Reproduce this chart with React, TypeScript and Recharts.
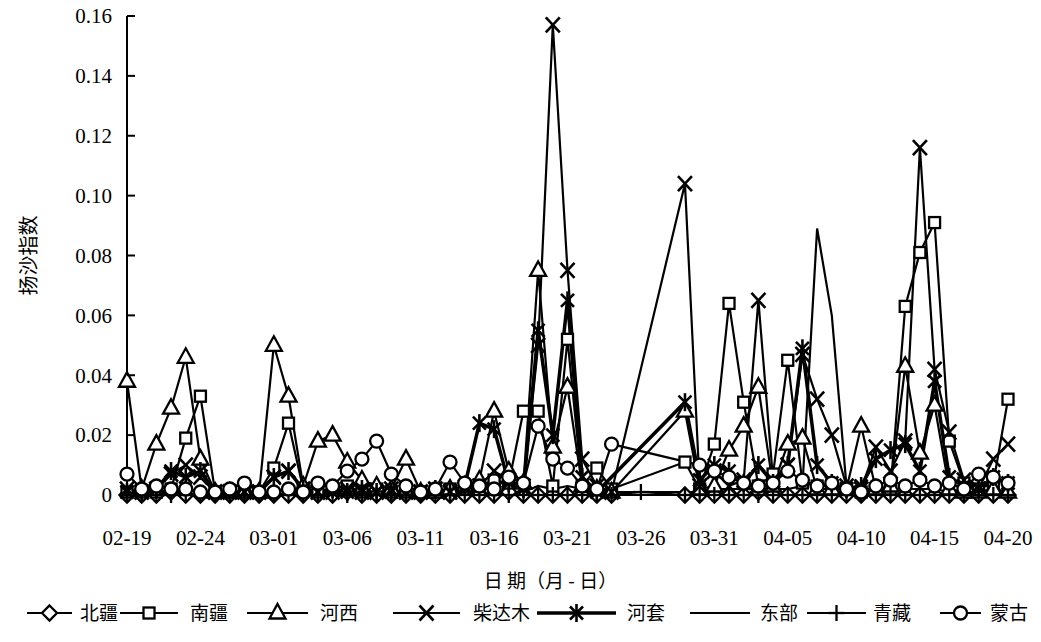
import * as React from 'react';
import { LineChart, Line, XAxis, YAxis, Legend } from 'recharts';

const dates = [
  '02-19', '02-20', '02-21', '02-22', '02-23', '02-24', '02-25', '02-26', '02-27', '02-28',
  '03-01', '03-02', '03-03', '03-04', '03-05', '03-06', '03-07', '03-08', '03-09', '03-10',
  '03-11', '03-12', '03-13', '03-14', '03-15', '03-16', '03-17', '03-18', '03-19', '03-20',
  '03-21', '03-22', '03-23', '03-24', '03-25', '03-26', '03-27', '03-28', '03-29', '03-30',
  '03-31', '04-01', '04-02', '04-03', '04-04', '04-05', '04-06', '04-07', '04-08', '04-09',
  '04-10', '04-11', '04-12', '04-13', '04-14', '04-15', '04-16', '04-17', '04-18', '04-19',
  '04-20',
];

// 北疆
const beijiang = [
  0, 0, 0, 0.001, 0, 0, 0, 0, 0, 0,
  0, 0, 0, 0, 0, 0.001, 0, 0, 0, 0,
  0, 0, 0, 0, 0, 0, 0.001, 0, 0, 0,
  0, 0, 0, 0, null, null, null, null, 0, 0,
  0, 0, 0, 0.001, 0, 0, 0, 0, 0, 0,
  0, 0, 0, 0, 0, 0, 0, 0, 0, 0,
  0,
];
// 南疆
const nanjiang = [
  0.001, 0.001, 0.001, 0.002, 0.019, 0.033, 0.001, 0.001, 0.001, 0.001,
  0.009, 0.024, 0.002, 0.001, 0.002, 0.003, 0.001, 0.002, 0.001, 0.001,
  0.001, 0.001, 0.002, 0.002, 0.003, 0.005, 0.004, 0.028, 0.028, 0.003,
  0.052, 0.003, 0.009, 0.002, null, null, null, null, 0.011, 0.002,
  0.017, 0.064, 0.031, 0.003, 0.007, 0.045, 0.004, 0.003, 0.003, 0.002,
  0.001, 0.002, 0.002, 0.063, 0.081, 0.091, 0.018, 0.004, 0.002, 0.004,
  0.032,
];
// 河西
const hexi = [
  0.038, 0.002, 0.017, 0.029, 0.046, 0.012, 0.001, 0.001, 0.001, 0.001,
  0.050, 0.033, 0.003, 0.018, 0.020, 0.011, 0.005, 0.003, 0.002, 0.012,
  0.001, 0.001, 0.002, 0.003, 0.005, 0.028, 0.008, 0.004, 0.075, 0.016,
  0.036, 0.003, 0.002, 0.001, null, null, null, null, 0.028, 0.002,
  0.003, 0.015, 0.023, 0.036, 0.003, 0.017, 0.019, 0.002, 0.002, 0.002,
  0.023, 0.002, 0.003, 0.043, 0.014, 0.030, 0.002, 0.001, 0.001, 0.002,
  0.001,
];
// 柴达木
const chaidamu = [
  0.002, 0.001, 0.002, 0.007, 0.010, 0.006, 0.001, 0.001, 0.001, 0.001,
  0.006, 0.008, 0.002, 0.001, 0.001, 0.002, 0.001, 0.001, 0.002, 0.001,
  0.001, 0.002, 0.001, 0.002, 0.003, 0.008, 0.005, 0.003, 0.050, 0.157,
  0.075, 0.012, 0.003, 0.001, null, null, null, null, 0.104, 0.003,
  0.008, 0.003, 0.005, 0.065, 0.005, 0.010, 0.047, 0.032, 0.020, 0.003,
  0.002, 0.016, 0.008, 0.018, 0.116, 0.042, 0.021, 0.005, 0.002, 0.012,
  0.017,
];
// 河套
const hetao = [
  0.001, 0.001, 0.002, 0.008, 0.006, 0.008, 0.001, 0.001, 0.001, 0.001,
  0.006, 0.008, 0.002, 0.001, 0.002, 0.001, 0.002, 0.001, 0.001, 0.001,
  0.001, 0.002, 0.001, 0.003, 0.024, 0.022, 0.004, 0.002, 0.055, 0.020,
  0.065, 0.006, 0.001, null, null, null, null, null, 0.031, 0.005,
  0.010, 0.008, 0.004, 0.010, 0.004, 0.010, 0.049, 0.010, 0.004, 0.002,
  0.003, 0.012, 0.015, 0.017, 0.008, 0.038, 0.006, 0.003, 0.002, 0.006,
  0.004,
];
// 东部
const dongbu = [
  0.001, 0.001, 0.001, 0.001, 0.002, 0.001, 0.001, 0.001, 0.001, 0.001,
  0.001, 0.002, 0.001, 0.001, 0.001, 0.001, 0.001, 0.001, 0.001, 0.001,
  0.001, 0.001, 0.001, 0.001, 0.002, 0.002, 0.001, 0.001, 0.003, 0.002,
  0.003, 0.002, 0.002, 0.001, null, null, null, null, null, 0.001,
  0.002, 0.002, 0.002, 0.002, 0.002, 0.002, 0.003, 0.089, 0.060, 0.003,
  0.001, 0.002, 0.001, 0.002, 0.002, 0.002, 0.001, 0.001, 0.001, 0.002,
  0.001,
];
// 青藏
const qingzang = [
  0, 0, 0, 0, 0, 0, 0, 0, 0, 0,
  0, 0, 0, 0, 0, 0, 0, 0, 0, 0,
  0, 0, 0, 0, 0, 0, 0, 0, 0, 0,
  0, 0, 0, 0, null, 0.001, null, null, 0, 0,
  0, 0, 0, 0, 0, 0, 0, 0, 0, 0,
  0, 0, 0, 0, 0, 0, 0, 0, 0, 0,
  0,
];
// 蒙古
const menggu = [
  0.007, 0.002, 0.003, 0.002, 0.002, 0.001, 0.001, 0.002, 0.004, 0.001,
  0.001, 0.002, 0.001, 0.004, 0.003, 0.008, 0.012, 0.018, 0.007, 0.003,
  0.001, 0.002, 0.011, 0.004, 0.003, 0.002, 0.006, 0.004, 0.023, 0.012,
  0.009, 0.003, 0.002, 0.017, null, null, null, null, null, 0.010,
  0.008, 0.006, 0.004, 0.003, 0.004, 0.008, 0.005, 0.003, 0.004, 0.002,
  0.001, 0.003, 0.005, 0.003, 0.005, 0.003, 0.004, 0.002, 0.007, 0.006,
  0.004,
];

const yTicks = [0, 0.02, 0.04, 0.06, 0.08, 0.1, 0.12, 0.14, 0.16];

const series = [
  { key: 'beijiang', name: '北疆', values: beijiang, shape: 'diamond', width: 2.2 },
  { key: 'nanjiang', name: '南疆', values: nanjiang, shape: 'square', width: 2.2 },
  { key: 'hexi', name: '河西', values: hexi, shape: 'triangle', width: 2.2 },
  { key: 'chaidamu', name: '柴达木', values: chaidamu, shape: 'cross', width: 2.2 },
  { key: 'hetao', name: '河套', values: hetao, shape: 'star', width: 3.5 },
  { key: 'dongbu', name: '东部', values: dongbu, shape: 'none', width: 2.2 },
  { key: 'qingzang', name: '青藏', values: qingzang, shape: 'plus', width: 2.2 },
  { key: 'menggu', name: '蒙古', values: menggu, shape: 'circle', width: 2.2 },
];

const data = dates.map((d, i) => {
  const row: any = { date: d };
  series.forEach((s) => { row[s.key] = s.values[i]; });
  return row;
});

const SERIF = "'Liberation Serif', 'Times New Roman', serif";
const CJK = "'Noto Sans CJK SC', sans-serif";

function Marker({ shape, cx, cy }: { shape: string; cx: number; cy: number }) {
  const st = { stroke: '#000', strokeWidth: 2.3 };
  switch (shape) {
    case 'diamond':
      return <polygon points={`${cx},${cy - 7.5} ${cx + 7.5},${cy} ${cx},${cy + 7.5} ${cx - 7.5},${cy}`} fill="#fff" {...st} />;
    case 'square':
      return <rect x={cx - 5.5} y={cy - 5.5} width={11} height={11} fill="#fff" {...st} />;
    case 'triangle':
      return <polygon points={`${cx},${cy - 9} ${cx + 8},${cy + 5.5} ${cx - 8},${cy + 5.5}`} fill="#fff" {...st} />;
    case 'cross':
      return (
        <g {...st} strokeWidth={2.6}>
          <line x1={cx - 7} y1={cy - 7.5} x2={cx + 7} y2={cy + 7.5} />
          <line x1={cx - 7} y1={cy + 7.5} x2={cx + 7} y2={cy - 7.5} />
        </g>
      );
    case 'star':
      return (
        <g {...st} strokeWidth={2.6}>
          <line x1={cx - 6.5} y1={cy - 6.5} x2={cx + 6.5} y2={cy + 6.5} />
          <line x1={cx - 6.5} y1={cy + 6.5} x2={cx + 6.5} y2={cy - 6.5} />
          <line x1={cx} y1={cy - 9} x2={cx} y2={cy + 9} />
        </g>
      );
    case 'plus':
      return (
        <g {...st}>
          <line x1={cx - 8} y1={cy} x2={cx + 8} y2={cy} />
          <line x1={cx} y1={cy - 8} x2={cx} y2={cy + 8} />
        </g>
      );
    case 'circle':
      return <circle cx={cx} cy={cy} r={6.5} fill="#fff" {...st} />;
    default:
      return null;
  }
}

const makeDot = (shape: string) => (props: any) => {
  const { cx, cy, value, index } = props;
  if (value == null || cx == null || cy == null) return <g key={`d-${index}`} />;
  return (
    <g key={`d-${index}`}>
      <Marker shape={shape} cx={cx} cy={cy} />
    </g>
  );
};

const fmtY = (v: number) => (v === 0 ? '0' : v.toFixed(2));

const YTick = (props: any) => {
  const { x, y, payload } = props;
  const ax = x + 15;
  return (
    <g>
      <line x1={ax} x2={ax + 8} y1={y} y2={y} stroke="#000" strokeWidth={2} />
      <text x={x} y={y} dy="0.35em" textAnchor="end" fontSize={21} fontFamily={SERIF} fill="#000">
        {fmtY(payload.value)}
      </text>
    </g>
  );
};

// legend layout (pixel positions only)
const legendPos: Record<string, [number, number, number]> = {
  beijiang: [27, 72, 80],
  nanjiang: [120, 178, 190],
  hexi: [247, 308, 320],
  chaidamu: [393, 460, 473],
  hetao: [537, 616, 627],
  dongbu: [690, 750, 760],
  qingzang: [807, 866, 873],
  menggu: [940, 981, 990],
};

const LegendRow = () => (
  <svg width={1041} height={30}>
    {series.map((s) => {
      const [a, b, t] = legendPos[s.key];
      const m = (a + b) / 2;
      return (
        <g key={s.key}>
          <line x1={a} x2={b} y1={15} y2={15} stroke="#000" strokeWidth={s.width} />
          <Marker shape={s.shape} cx={m} cy={15} />
          <text x={t} y={15} dy="0.35em" fontSize={19} fontFamily={CJK} fill="#000">
            {s.name}
          </text>
        </g>
      );
    })}
  </svg>
);

export default function App() {
  return (
    <div style={{ position: 'absolute', left: 0, top: 0, width: 1041, height: 642, background: '#fff' }}>
      <LineChart
        width={1041}
        height={642}
        data={data}
        margin={{ top: 16, right: 33, left: 17, bottom: 27 }}
      >
        <XAxis
          dataKey="date"
          interval={4}
          tickLine={false}
          tickSize={6}
          tickMargin={29}
          height={90}
          axisLine={{ stroke: '#000', strokeWidth: 2 }}
          tick={{ fontSize: 21, fontFamily: SERIF, fill: '#000' }}
          label={{
            value: '日 期（月 - 日）',
            position: 'insideBottom',
            offset: -3,
            dx: -17,
            style: { fontSize: 19, fontFamily: CJK, fill: '#000' },
          }}
        />
        <YAxis
          domain={[0, 0.16]}
          ticks={yTicks}
          width={110}
          tickLine={false}
          tickSize={8}
          tickMargin={7}
          axisLine={{ stroke: '#000', strokeWidth: 2 }}
          tick={<YTick />}
          label={{
            value: '扬沙指数',
            angle: -90,
            position: 'insideLeft',
            offset: 12,
            style: { fontSize: 20, fontFamily: CJK, fill: '#000', textAnchor: 'middle' },
          }}
        />
        <Legend
          verticalAlign="bottom"
          height={30}
          content={LegendRow}
          wrapperStyle={{ position: 'absolute', top: 598, left: 0, bottom: 'auto', width: 1041, height: 30 }}
        />
        {series.map((s) => (
          <Line
            key={s.key}
            dataKey={s.key}
            name={s.name}
            type="linear"
            stroke="#000"
            strokeWidth={s.width}
            dot={s.shape === 'none' ? false : makeDot(s.shape)}
            activeDot={false}
            connectNulls
            isAnimationActive={false}
          />
        ))}
      </LineChart>
    </div>
  );
}
